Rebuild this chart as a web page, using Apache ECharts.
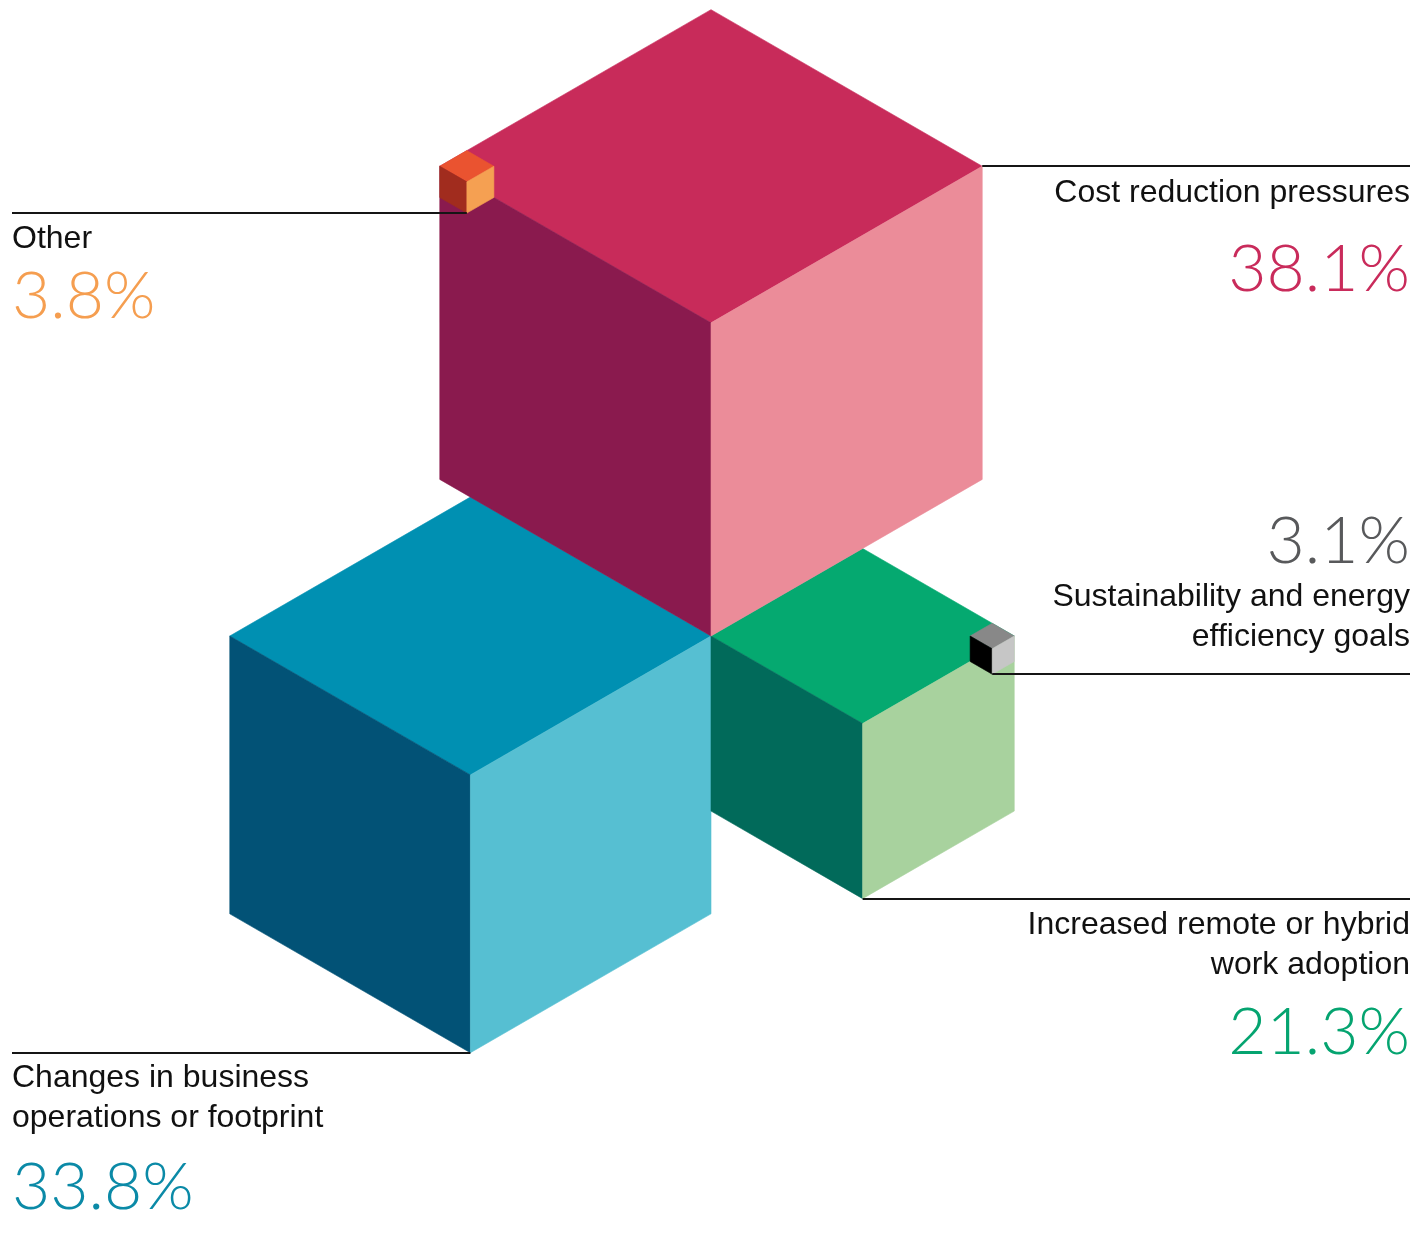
<!DOCTYPE html>
<html><head><meta charset="utf-8">
<script src="https://cdn.jsdelivr.net/npm/echarts@6/dist/echarts.min.js"></script>
<style>html,body{margin:0;padding:0;background:#fff;overflow:hidden}#c{width:1417px;height:1252px;}</style>
</head><body><div id="c"></div>
<script>
// ---- data ----
const categories = ['Cost reduction pressures', 'Changes in business operations or footprint', 'Increased remote or hybrid work adoption', 'Other', 'Sustainability and energy efficiency goals'];
const values = [38.1, 33.8, 21.3, 3.8, 3.1];
const labelLines = [
  ['Cost reduction pressures'],
  ['Changes in business', 'operations or footprint'],
  ['Increased remote or hybrid', 'work adoption'],
  ['Other'],
  ['Sustainability and energy', 'efficiency goals']
];
// ---- styles ----
const topColors = ['#C82B5A', '#0090B2', '#05A970', '#EA5330', '#888888'];
const leftColors = ['#8A1A4E', '#025276', '#016A5A', '#A12C1E', '#000000'];
const rightColors = ['#EB8C99', '#56BFD2', '#A8D29E', '#F5A052', '#C6C6C6'];
const pctColors = ['#C92B5B', '#0B8AA7', '#05A470', '#F59E50', '#58595B'];
// ---- layout ----
const W = 1417, H = 1252;
const PX_PER_UNIT = 8.22;
const ORIGIN = [711, 636];
const anchorKind = ['topRight', 'frontBottom', 'frontBottom', 'frontBottom', 'frontBottom'];
const side = ['right', 'left', 'right', 'left', 'right'];
const nameOffsets = [[37], [35, 75], [36, 76], [36], [-67, -27]];
const pctOffsets = [124, 155, 154, 104, -112];
const drawOrder = [2, 0, 1, 3, 4]; // stacking rank per category
const NAME_SIZE = 32, PCT_SIZE = 66;
const C30 = Math.cos(Math.PI / 6);

// cube min corners (isometric 3D), derived from values so cubes touch at shared vertices
const r = values[0], b = values[1], g = values[2], o = values[3], t = values[4];
const mins = [
  [0, 0, 0],
  [-b, 0, -b],
  [0, -g, -g],
  [0, r - o, r - o],
  [g - t, -g, -t]
];

const chart = echarts.init(document.getElementById('c'), null, {renderer: 'canvas'});
const option = {
  animation: false,
  backgroundColor: '#ffffff',
  grid: {left: 0, right: 0, top: 0, bottom: 0},
  xAxis: {type: 'value', min: -ORIGIN[0] / PX_PER_UNIT, max: (W - ORIGIN[0]) / PX_PER_UNIT, show: false},
  yAxis: {type: 'value', min: -(H - ORIGIN[1]) / PX_PER_UNIT, max: ORIGIN[1] / PX_PER_UNIT, show: false},
  series: [{
    type: 'custom',
    coordinateSystem: 'cartesian2d',
    clip: false,
    encode: {x: 0, y: 1},
    data: values.map((v, i) => ({name: categories[i], value: [v, i]})),
    renderItem: function (params, api) {
      const i = api.value(1);
      const s = api.value(0);
      const m = mins[i];
      const x0 = m[0], y0 = m[1], z0 = m[2], zt = z0 + s;
      const P = (X, Y, Z) => api.coord([(X - Y) * C30, (X + Y) / 2 + Z]);
      const top = [P(x0, y0, zt), P(x0 + s, y0, zt), P(x0 + s, y0 + s, zt), P(x0, y0 + s, zt)];
      const left = [P(x0, y0, z0), P(x0, y0 + s, z0), P(x0, y0 + s, zt), P(x0, y0, zt)];
      const right = [P(x0, y0, z0), P(x0 + s, y0, z0), P(x0 + s, y0, zt), P(x0, y0, zt)];
      const anchor = anchorKind[i] === 'topRight' ? P(x0 + s, y0, zt) : P(x0, y0, z0);
      const cs = params.coordSys;
      const isRight = side[i] === 'right';
      const endX = isRight ? cs.x + cs.width - 7 : cs.x + 12;
      const ly = Math.round(anchor[1]);
      const zb = drawOrder[i] * 10;
      const face = (pts, col, k) => ({type: 'polygon', z2: zb + k, shape: {points: pts}, style: {fill: col, stroke: col, lineWidth: 0.6}});
      const children = [
        face(top, topColors[i], 1),
        face(left, leftColors[i], 2),
        face(right, rightColors[i], 3),
        {type: 'line', z2: 200, shape: {x1: anchor[0], y1: ly, x2: endX, y2: ly}, style: {stroke: '#151515', lineWidth: 2}}
      ];
      const align = isRight ? 'right' : 'left';
      labelLines[i].forEach((txt, j) => {
        children.push({type: 'text', z2: 300, style: {
          text: txt, x: endX, y: ly + nameOffsets[i][j] - 0.31 * NAME_SIZE,
          align: align, verticalAlign: 'middle',
          font: 'normal ' + NAME_SIZE + 'px "Liberation Sans", Arial, sans-serif', fill: '#111111'
        }});
      });
      children.push({type: 'text', z2: 300, style: {
        text: s.toFixed(1) + '%', x: endX, y: ly + pctOffsets[i] - 0.31 * PCT_SIZE,
        align: align, verticalAlign: 'middle',
        font: '300 ' + PCT_SIZE + 'px Lato, "Liberation Sans", sans-serif', fill: pctColors[i]
      }});
      return {type: 'group', children: children};
    }
  }]
};
chart.setOption(option);
</script>
</body></html>
